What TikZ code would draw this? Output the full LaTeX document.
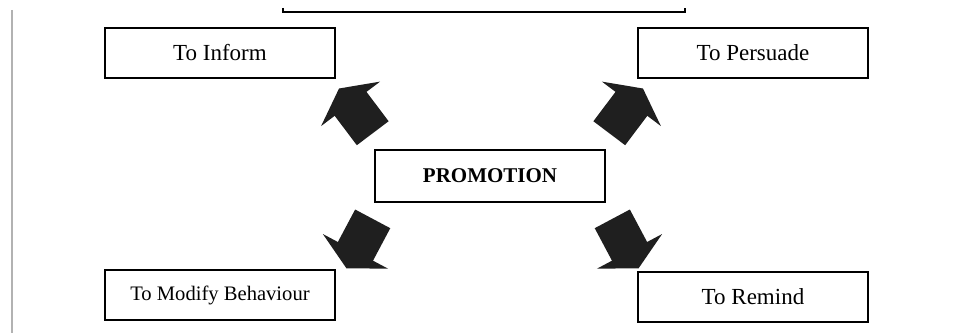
\documentclass[tikz,border=0pt]{standalone}
\usepackage{fontspec}
\setmainfont{Liberation Serif}
\usetikzlibrary{shapes.arrows}

\begin{document}
\begin{tikzpicture}
[x=.5pt, y=.5pt,
every node/.style={
  font=\fontsize{11.5}{13}\selectfont
},
goal/.style={
  draw, line width=1pt, minimum width=115pt, minimum height=25pt,
  inner sep=0pt
},
hub/.style={
  goal, minimum height=26pt, font=\fontsize{10.5}{12}\selectfont\bfseries
},
blockarrow/.style={
  single arrow, fill=black!88, draw=none, inner xsep=0pt, inner ysep=9.75pt,
  minimum height=28pt, minimum width=36.5pt,
  single arrow head extend=8.5pt, single arrow tip angle=125
},
pageline/.style={
  line width=.8pt
}
]
\useasboundingbox (0,0) rectangle (955,333);

% page fragments
\draw[gray!60, line width=.6pt] (12,323) coordinate (edge top) -- (12,0) coordinate (edge bottom);
\draw[pageline] (283,325) coordinate (frame left) -- (283,321) -- (685,321) -- (685,325) coordinate (frame right);

% Promotion
\node[hub] (promotion) at (490,157) {PROMOTION};

% Objectives
\node[goal] (inform) at (220,280) {To Inform};
\node[goal] (persuade) at (753,280) {To Persuade};
\node[goal, font=\fontsize{10.3}{12}\selectfont] (modify) at (220,38) {To Modify Behaviour};
\node[goal] (remind) at (753,36) {To Remind};

% Arrows
\node[blockarrow, rotate=127] (to inform) at (359,218) {};
\node[blockarrow, rotate=53] (to persuade) at (623,218) {};
\node[blockarrow, rotate=242] (to modify) at (362,94) {};
\node[blockarrow, rotate=-62] (to remind) at (623,94) {};

\end{tikzpicture}
\end{document}
